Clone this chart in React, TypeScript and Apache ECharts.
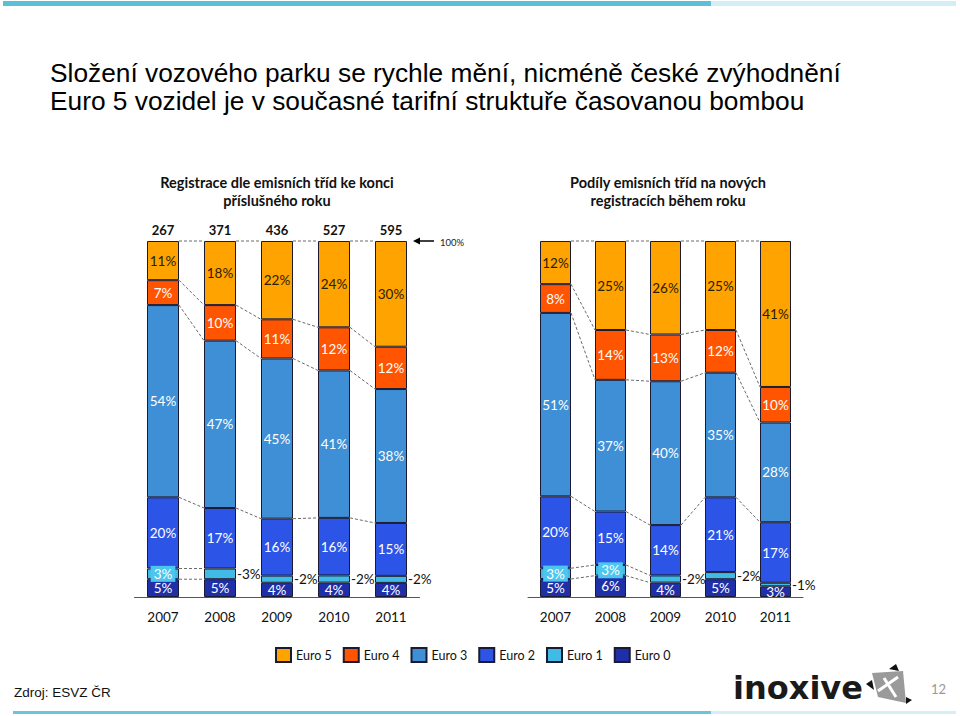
import React, { useEffect, useRef } from "react";
import * as echarts from "echarts";

const years = ["2007", "2008", "2009", "2010", "2011"];
const totals = ["267", "371", "436", "527", "595"];
const seriesNames = ["Euro 0", "Euro 1", "Euro 2", "Euro 3", "Euro 4", "Euro 5"];
const legendOrder = ["Euro 5", "Euro 4", "Euro 3", "Euro 2", "Euro 1", "Euro 0"];

// Left: registrations by emission class at end of year (%)
const leftEuro0 = [5, 5, 4, 4, 4];
const leftEuro1 = [3, 3, 2, 2, 2];
const leftEuro2 = [20, 17, 16, 16, 15];
const leftEuro3 = [54, 47, 45, 41, 38];
const leftEuro4 = [7, 10, 11, 12, 12];
const leftEuro5 = [11, 18, 22, 24, 30];

// Right: shares of emission classes in new registrations during year (%)
const rightEuro0 = [5, 6, 4, 5, 3];
const rightEuro1 = [3, 3, 2, 2, 1];
const rightEuro2 = [20, 15, 14, 21, 17];
const rightEuro3 = [51, 37, 40, 35, 28];
const rightEuro4 = [8, 14, 13, 12, 10];
const rightEuro5 = [12, 25, 26, 25, 41];

// whether the small Euro 1 label sits inside the bar
const leftEuro1Inside = [true, false, false, false, false];
const rightEuro1Inside = [true, true, false, false, false];

const colors = ["#1f2fa8", "#3fbbe6", "#2c55e8", "#3e8fd6", "#ff5500", "#ffa300"];
const labelColors = ["#ffffff", "#ffffff", "#ffffff", "#ffffff", "#ffffff", "#2a2000"];
const FONT = "Lato, 'Open Sans', sans-serif";
const LABEL_SIZE = 13.5;

function normalize(sets: number[][]) {
  const n = sets[0].length;
  const out = sets.map(() => new Array(n).fill(0));
  for (let i = 0; i < n; i++) {
    let sum = 0;
    for (let s = 0; s < sets.length; s++) sum += sets[s][i];
    for (let s = 0; s < sets.length; s++) out[s][i] = (sets[s][i] / sum) * 100;
  }
  return out;
}

function cumulative(norm: number[][]) {
  const n = norm[0].length;
  const res: number[][] = [];
  for (let i = 0; i < n; i++) {
    const row = [0];
    let acc = 0;
    for (let s = 0; s < norm.length; s++) {
      acc += norm[s][i];
      row.push(acc);
    }
    res.push(row);
  }
  return res;
}

function buildSide(
  raw: number[][],
  inside1: boolean[],
  xAxisIndex: number,
  yAxisIndex: number,
  barW: number,
  stack: string
) {
  const norm = normalize(raw);
  const cum = cumulative(norm);
  const series: any[] = raw.map((vals, s) => ({
    type: "bar",
    name: seriesNames[s],
    stack,
    xAxisIndex,
    yAxisIndex,
    barWidth: barW,
    z: 3,
    itemStyle: { color: colors[s], borderColor: "#1a1a33", borderWidth: 1 },
    data: vals.map((v, i) => {
      const item: any = { value: norm[s][i], raw: v };
      if (s === 1) {
        if (inside1[i]) {
          item.label = {
            show: true,
            position: "inside",
            color: "#ffffff",
            backgroundColor: "#4cc6ee",
            padding: [1, 3],
            formatter: v + "%",
          };
        } else {
          item.label = {
            show: true,
            position: "right",
            distance: 1,
            color: "#111",
            formatter: "-" + v + "%",
          };
        }
      }
      return item;
    }),
    label: {
      show: true,
      position: "inside",
      color: labelColors[s],
      fontFamily: FONT,
      fontSize: LABEL_SIZE,
      formatter: (p: any) => p.data.raw + "%",
    },
  }));
  series.push({
    type: "custom",
    xAxisIndex,
    yAxisIndex,
    silent: true,
    z: 1,
    encode: { x: 0, y: 1 },
    data: [0, 1, 2, 3].map((i) => [i, 0]),
    renderItem: (params: any, api: any) => {
      const i = api.value(0);
      const xa = api.coord([i, 0])[0] + barW / 2;
      const xb = api.coord([i + 1, 0])[0] - barW / 2;
      const children: any[] = [];
      for (let k = 1; k <= 6; k++) {
        if (k <= 2 && !inside1[i]) continue;
        const ya = api.coord([i, cum[i][k]])[1];
        const yb = api.coord([i + 1, cum[i + 1][k]])[1];
        children.push({
          type: "line",
          shape: { x1: xa, y1: ya, x2: xb, y2: yb },
          style: { stroke: "#6a6a6a", lineWidth: 1, lineDash: [3, 2] },
        });
      }
      return { type: "group", children };
    },
  });
  return series;
}

export default function App() {
  const ref = useRef<HTMLDivElement>(null);
  useEffect(() => {
    if (!ref.current) return;
    const chart = echarts.init(ref.current, null, { renderer: "svg" });
    const left = buildSide(
      [leftEuro0, leftEuro1, leftEuro2, leftEuro3, leftEuro4, leftEuro5],
      leftEuro1Inside, 0, 0, 32, "L"
    );
    const right = buildSide(
      [rightEuro0, rightEuro1, rightEuro2, rightEuro3, rightEuro4, rightEuro5],
      rightEuro1Inside, 2, 1, 31, "R"
    );
    const yearAxis = (gridIndex: number) => ({
      type: "category",
      gridIndex,
      data: years,
      position: "bottom",
      axisLine: { lineStyle: { color: "#555", width: 1 } },
      axisTick: { show: false },
      axisLabel: { color: "#111", fontFamily: FONT, fontSize: 13.5, margin: 13 },
    });
    const option: any = {
      animation: false,
      backgroundColor: "#ffffff",
      grid: [
        { left: 134.5, width: 285, top: 241, height: 356 },
        { left: 528, width: 275, top: 241, height: 356 },
      ],
      xAxis: [
        yearAxis(0),
        {
          type: "category",
          gridIndex: 0,
          data: totals,
          position: "top",
          axisLine: { show: false },
          axisTick: { show: false },
          axisLabel: { color: "#111", fontFamily: FONT, fontSize: 13, fontWeight: "bold", margin: 5 },
        },
        yearAxis(1),
      ],
      yAxis: [
        { type: "value", gridIndex: 0, min: 0, max: 100, show: false },
        { type: "value", gridIndex: 1, min: 0, max: 100, show: false },
      ],
      legend: {
        data: legendOrder,
        left: 270,
        top: 642,
        itemWidth: 15,
        itemHeight: 14,
        itemGap: 11,
        icon: "rect",
        textStyle: { color: "#111", fontFamily: FONT, fontSize: 12.5 },
      },
      series: [...left, ...right],
      graphic: [
        { type: "rect", shape: { x: 3, y: 1, width: 708, height: 5 }, style: { fill: "#5bbfd6" } },
        { type: "rect", shape: { x: 711, y: 1, width: 245, height: 5 }, style: { fill: "#d3eef5" } },
        { type: "rect", shape: { x: 13, y: 711, width: 698, height: 3 }, style: { fill: "#6cc5d9" } },
        { type: "rect", shape: { x: 711, y: 711, width: 245, height: 3 }, style: { fill: "#d6eff5" } },
        {
          type: "text", x: 50, y: 73,
          style: { text: "Složení vozového parku se rychle mění, nicméně české zvýhodnění", font: "26.3px 'Liberation Sans', Arial, sans-serif", fill: "#000", verticalAlign: "middle" },
        },
        {
          type: "text", x: 50, y: 101,
          style: { text: "Euro 5 vozidel je v současné tarifní struktuře časovanou bombou", font: "26.3px 'Liberation Sans', Arial, sans-serif", fill: "#000", verticalAlign: "middle" },
        },
        {
          type: "text", x: 277, y: 182,
          style: { text: "Registrace dle emisních tříd ke konci", font: "bold 14.5px Lato, sans-serif", fill: "#111", align: "center", verticalAlign: "middle" },
        },
        {
          type: "text", x: 277, y: 200,
          style: { text: "příslušného roku", font: "bold 14.5px Lato, sans-serif", fill: "#111", align: "center", verticalAlign: "middle" },
        },
        {
          type: "text", x: 668, y: 182,
          style: { text: "Podíly emisních tříd na nových", font: "bold 14.5px Lato, sans-serif", fill: "#111", align: "center", verticalAlign: "middle" },
        },
        {
          type: "text", x: 668, y: 200,
          style: { text: "registracích během roku", font: "bold 14.5px Lato, sans-serif", fill: "#111", align: "center", verticalAlign: "middle" },
        },
        { type: "line", shape: { x1: 418, y1: 241, x2: 434, y2: 241 }, style: { stroke: "#000", lineWidth: 1.5 } },
        { type: "polygon", shape: { points: [[413, 241], [420, 237.5], [420, 244.5]] }, style: { fill: "#000" } },
        {
          type: "text", x: 440, y: 242,
          style: { text: "100%", font: "9.5px Lato, sans-serif", fill: "#222", verticalAlign: "middle" },
        },
        {
          type: "text", x: 14, y: 692,
          style: { text: "Zdroj: ESVZ ČR", font: "13.5px 'Liberation Sans', Arial, sans-serif", fill: "#111", verticalAlign: "middle" },
        },
        {
          type: "text", x: 733, y: 688,
          style: { text: "inoxive", font: "bold 32px 'DejaVu Sans', sans-serif", fill: "#1a1a1a", verticalAlign: "middle" },
        },
        { type: "polygon", shape: { points: [[872, 673], [903, 671], [906, 703], [878, 697]] }, style: { fill: "#9a9a9a" } },
        { type: "polygon", shape: { points: [[889, 669], [896, 664], [899, 671]] }, style: { fill: "#111" } },
        { type: "polygon", shape: { points: [[866, 684], [872, 680], [874, 690]] }, style: { fill: "#111" } },
        { type: "polygon", shape: { points: [[906, 697], [912, 700], [906, 704]] }, style: { fill: "#111" } },
        { type: "line", shape: { x1: 878, y1: 691, x2: 898, y2: 677 }, style: { stroke: "#fff", lineWidth: 3 } },
        { type: "line", shape: { x1: 884, y1: 678, x2: 896, y2: 697 }, style: { stroke: "#fff", lineWidth: 3 } },
        {
          type: "text", x: 931, y: 689,
          style: { text: "12", font: "13px Lato, sans-serif", fill: "#999", verticalAlign: "middle" },
        },
      ],
    };
    chart.setOption(option);
    return () => chart.dispose();
  }, []);
  return (
    <div
      ref={ref}
      style={{ position: "absolute", left: 0, top: 0, width: 960, height: 716, background: "#fff" }}
    />
  );
}
